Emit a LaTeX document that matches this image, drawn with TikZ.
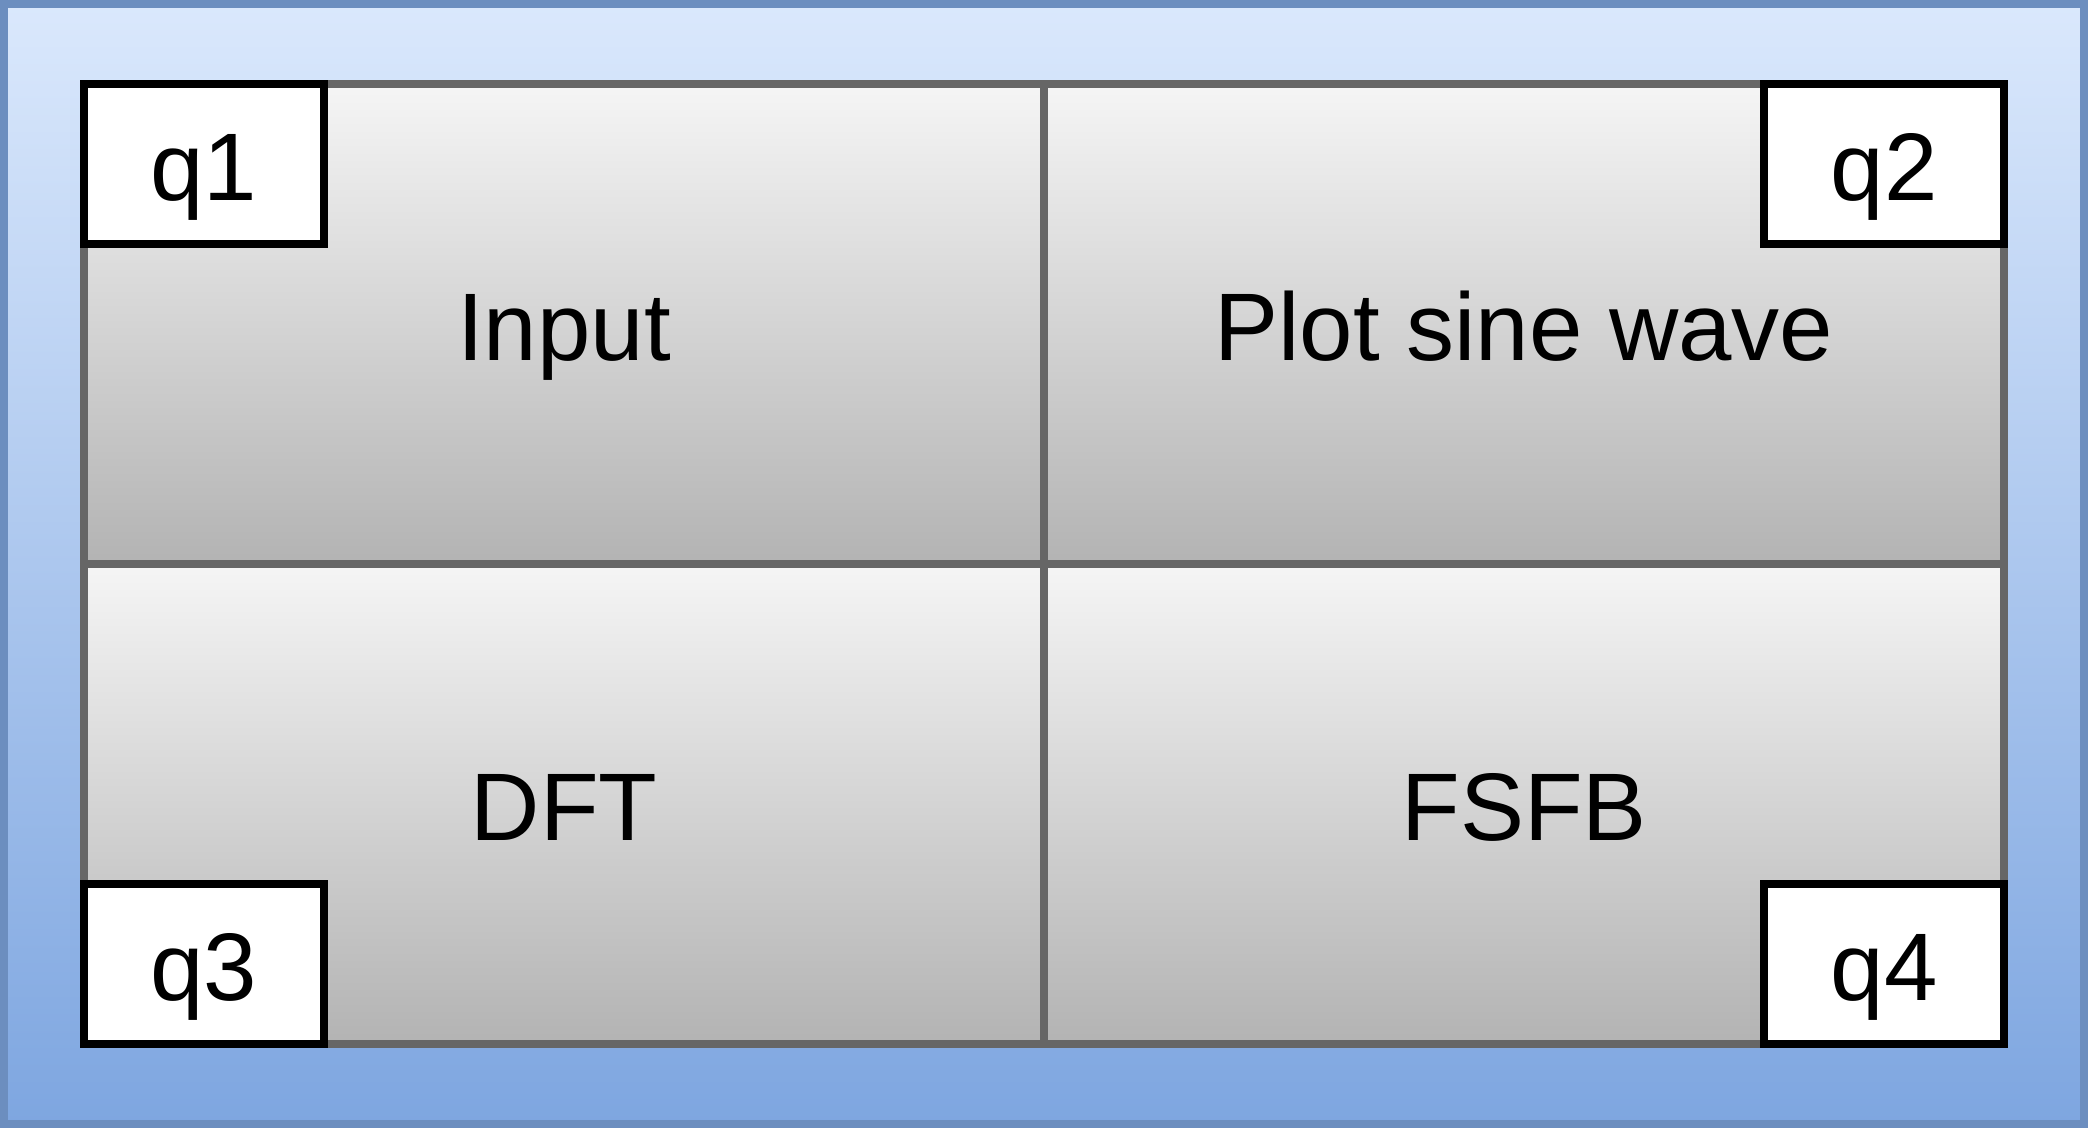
\documentclass[tikz,border=0pt]{standalone}
\usepackage{fontspec}
\setmainfont{Liberation Sans}
\definecolor{frameblue}{HTML}{6C8EBF}
\definecolor{lightblue}{HTML}{DAE8FC}
\definecolor{darkblue}{HTML}{7EA6E0}
\definecolor{gridgray}{HTML}{666666}
\definecolor{topgray}{HTML}{F5F5F5}
\definecolor{botgray}{HTML}{B3B3B3}
\tikzset{
  quad/.style={draw=gridgray,line width=8pt,shading=axis,top color=topgray,bottom color=botgray,
    minimum width=960pt,minimum height=480pt,inner sep=0pt,text height=72pt,text depth=0pt,
    font=\fontsize{96}{96}\selectfont},
  tag/.style={draw=black,line width=8pt,fill=white,
    minimum width=240pt,minimum height=160pt,inner sep=0pt,text height=72pt,text depth=0pt,
    font=\fontsize{96}{96}\selectfont}
}
\begin{document}
\begin{tikzpicture}[x=1pt,y=-1pt]
            \useasboundingbox (0,0) rectangle (2096,1128);

            \draw[frameblue,line width=8pt,top color=lightblue,bottom color=darkblue] (4,4) rectangle (2084,1124);

            \node[quad] (input) at (564, 324) {Input};
            \node[quad] (plot) at (1524, 324) {Plot sine wave};
            \node[quad] (dft) at (564, 804) {DFT};
            \node[quad] (fsfb) at (1524, 804) {FSFB};

            \node[tag] (q1) at (204, 164) {q1};
            \node[tag] (q2) at (1884, 164) {q2};
            \node[tag] (q3) at (204, 964) {q3};
            \node[tag] (q4) at (1884, 964) {q4};
\end{tikzpicture}
\end{document}
